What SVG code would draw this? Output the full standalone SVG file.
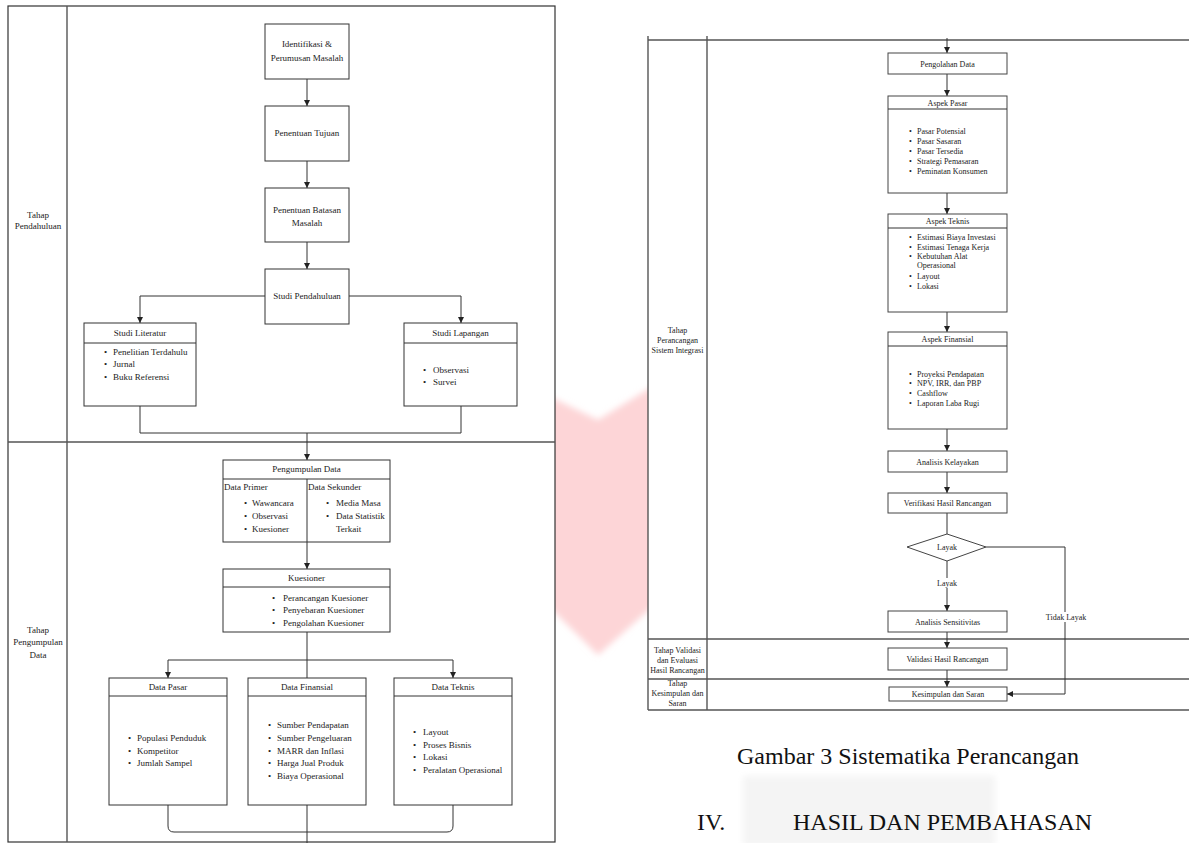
<svg xmlns="http://www.w3.org/2000/svg" width="1189" height="843" viewBox="0 0 1189 843">
<style>
  text { font-family: "Liberation Serif", "Times New Roman", serif; fill: #222; }
  .t { font-size: 9px; }
  .r { font-size: 8px; }
  .c { text-anchor: middle; }
  .box { fill: #fff; stroke: #333; stroke-width: 1; }
  .rbox { fill: #fff; stroke: #444; stroke-width: 1; }
  .sep { stroke: #333; stroke-width: 1; fill: none; }
  .lane { stroke: #555; stroke-width: 1.4; fill: none; }
  .con { stroke: #333; stroke-width: 1; fill: none; }
  .arr { marker-end: url(#ah); }
  .cap { font-size: 24px; fill: #111; }
</style>
<defs>
  <marker id="ah" markerUnits="userSpaceOnUse" markerWidth="7" markerHeight="7" refX="6" refY="3" orient="auto">
    <path d="M0,0 L6,3 L0,6 z" fill="#222"/>
  </marker>
  <filter id="soft" x="-10%" y="-10%" width="120%" height="120%">
    <feGaussianBlur stdDeviation="3"/>
  </filter>
</defs>
<rect x="0" y="0" width="1189" height="843" fill="#fff"/>

<!-- watermark -->
<g id="watermark">
  <polygon points="540,392 598,420 660,382 660,600 598,655 540,598" fill="#fdd5d7" filter="url(#soft)"/>
  <rect x="743" y="776" width="252" height="70" fill="#f4f4f4" filter="url(#soft)"/>
</g>

<!-- LEFT DIAGRAM swimlanes -->
<g id="left-lanes">
  <rect x="8" y="6" width="547" height="836" fill="#fff" stroke="#333" stroke-width="1.2"/>
  <line class="lane" x1="67" y1="6" x2="67" y2="842"/>
  <line class="lane" x1="8" y1="442" x2="555" y2="442"/>
  <text class="t c" x="38" y="218">Tahap</text>
  <text class="t c" x="38" y="229">Pendahuluan</text>
  <text class="t c" x="38" y="633">Tahap</text>
  <text class="t c" x="38" y="645">Pengumpulan</text>
  <text class="t c" x="38" y="658">Data</text>
</g>

<!-- RIGHT DIAGRAM swimlanes -->
<g id="right-lanes">
  <rect x="648" y="40" width="545" height="670" fill="#fff" stroke="none"/>
  <line class="lane" x1="648" y1="36" x2="648" y2="710"/>
  <line class="lane" x1="707" y1="36" x2="707" y2="710"/>
  <line class="lane" x1="648" y1="40" x2="1189" y2="40"/>
  <line class="lane" x1="648" y1="639" x2="1189" y2="639"/>
  <line class="lane" x1="648" y1="679" x2="1189" y2="679"/>
  <line class="lane" x1="648" y1="710" x2="1189" y2="710"/>
  <text class="r c" x="677.5" y="333">Tahap</text>
  <text class="r c" x="677.5" y="343">Perancangan</text>
  <text class="r c" x="677.5" y="353">Sistem Integrasi</text>
  <text class="r c" x="677.5" y="653">Tahap Validasi</text>
  <text class="r c" x="677.5" y="663">dan Evaluasi</text>
  <text class="r c" x="677.5" y="673">Hasil Rancangan</text>
  <text class="r c" x="677.5" y="686">Tahap</text>
  <text class="r c" x="677.5" y="696">Kesimpulan dan</text>
  <text class="r c" x="677.5" y="706">Saran</text>
</g>

<!-- connectors -->
<g id="connectors">
  <line class="con arr" x1="307" y1="79" x2="307" y2="106"/>
  <line class="con arr" x1="307" y1="161" x2="307" y2="188"/>
  <line class="con arr" x1="307" y1="242" x2="307" y2="269"/>
  <path class="con arr" d="M265,296 H140 V323"/>
  <path class="con arr" d="M349,296 H461 V323"/>
  <path class="con" d="M140,406 V433 H461 V406"/>
  <line class="con arr" x1="307" y1="433" x2="307" y2="460"/>
  <line class="con arr" x1="307" y1="542" x2="307" y2="569"/>
  <path class="con" d="M307,632 V678"/>
  <path class="con arr" d="M307,660 H168 V678"/>
  <path class="con arr" d="M307,660 H453 V678"/>
  <path class="con" d="M168,805 V826 Q168,832 174,832 H447 Q453,832 453,826 V805"/>
  <line class="con" x1="307" y1="805" x2="307" y2="843"/>

  <line class="con arr" x1="947" y1="38" x2="947" y2="53"/>
  <line class="con arr" x1="947" y1="74" x2="947" y2="96"/>
  <line class="con arr" x1="947" y1="193" x2="947" y2="214"/>
  <line class="con arr" x1="947" y1="312" x2="947" y2="332"/>
  <line class="con arr" x1="947" y1="429" x2="947" y2="451"/>
  <line class="con arr" x1="947" y1="472" x2="947" y2="493"/>
  <line class="con" x1="947" y1="513" x2="947" y2="534"/>
  <line class="con arr" x1="947" y1="561" x2="947" y2="611"/>
  <line class="con arr" x1="947" y1="632" x2="947" y2="648"/>
  <line class="con arr" x1="947" y1="670" x2="947" y2="687"/>
  <path class="con arr" d="M986,547 H1065 V694 H1007"/>
  <rect x="932" y="578" width="30" height="10" fill="#fff"/>
  <text class="r c" x="947" y="586">Layak</text>
  <rect x="1045" y="612" width="42" height="10" fill="#fff"/>
  <text class="r c" x="1066" y="620">Tidak Layak</text>
</g>

<!-- LEFT NODES -->
<g id="n-identifikasi">
  <rect class="box" x="265" y="24" width="84" height="55"/>
  <text class="t c" x="307" y="47">Identifikasi &amp;</text>
  <text class="t c" x="307" y="61">Perumusan Masalah</text>
</g>
<g id="n-tujuan">
  <rect class="box" x="265" y="106" width="84" height="55"/>
  <text class="t c" x="307" y="136">Penentuan Tujuan</text>
</g>
<g id="n-batasan">
  <rect class="box" x="265" y="188" width="84" height="54"/>
  <text class="t c" x="307" y="213">Penentuan Batasan</text>
  <text class="t c" x="307" y="226">Masalah</text>
</g>
<g id="n-studi-pendahuluan">
  <rect class="box" x="265" y="269" width="84" height="55"/>
  <text class="t c" x="307" y="299">Studi Pendahuluan</text>
</g>
<g id="n-studi-literatur">
  <rect class="box" x="84" y="323" width="112" height="83"/>
  <line class="sep" x1="84" y1="343" x2="196" y2="343"/>
  <text class="t c" x="140" y="336">Studi Literatur</text>
  <text class="t" x="104" y="355">•</text><text class="t" x="113" y="355">Penelitian Terdahulu</text>
  <text class="t" x="104" y="367">•</text><text class="t" x="113" y="367">Jurnal</text>
  <text class="t" x="104" y="380">•</text><text class="t" x="113" y="380">Buku Referensi</text>
</g>
<g id="n-studi-lapangan">
  <rect class="box" x="404" y="323" width="113" height="83"/>
  <line class="sep" x1="404" y1="343" x2="517" y2="343"/>
  <text class="t c" x="460.5" y="336">Studi Lapangan</text>
  <text class="t" x="423" y="373">•</text><text class="t" x="433" y="373">Observasi</text>
  <text class="t" x="423" y="385">•</text><text class="t" x="433" y="385">Survei</text>
</g>
<g id="n-pengumpulan">
  <rect class="box" x="223" y="460" width="167" height="82"/>
  <line class="sep" x1="223" y1="479" x2="390" y2="479"/>
  <line class="sep" x1="307" y1="479" x2="307" y2="542"/>
  <text class="t c" x="306.5" y="472">Pengumpulan Data</text>
  <text class="t" x="224" y="490">Data Primer</text>
  <text class="t" x="244" y="506">•</text><text class="t" x="252" y="506">Wawancara</text>
  <text class="t" x="244" y="519">•</text><text class="t" x="252" y="519">Observasi</text>
  <text class="t" x="244" y="532">•</text><text class="t" x="252" y="532">Kuesioner</text>
  <text class="t" x="308" y="490">Data Sekunder</text>
  <text class="t" x="326" y="506">•</text><text class="t" x="336" y="506">Media Masa</text>
  <text class="t" x="326" y="519">•</text><text class="t" x="336" y="519">Data Statistik</text>
  <text class="t" x="336" y="532">Terkait</text>
</g>
<g id="n-kuesioner">
  <rect class="box" x="223" y="569" width="167" height="63"/>
  <line class="sep" x1="223" y1="587" x2="390" y2="587"/>
  <text class="t c" x="306.5" y="581">Kuesioner</text>
  <text class="t" x="272" y="601">•</text><text class="t" x="283" y="601">Perancangan Kuesioner</text>
  <text class="t" x="272" y="613">•</text><text class="t" x="283" y="613">Penyebaran Kuesioner</text>
  <text class="t" x="272" y="626">•</text><text class="t" x="283" y="626">Pengolahan Kuesioner</text>
</g>
<g id="n-data-pasar">
  <rect class="box" x="109" y="678" width="118" height="127"/>
  <line class="sep" x1="109" y1="696" x2="227" y2="696"/>
  <text class="t c" x="168" y="690">Data Pasar</text>
  <text class="t" x="128" y="741">•</text><text class="t" x="137" y="741">Populasi Penduduk</text>
  <text class="t" x="128" y="754">•</text><text class="t" x="137" y="754">Kompetitor</text>
  <text class="t" x="128" y="766">•</text><text class="t" x="137" y="766">Jumlah Sampel</text>
</g>
<g id="n-data-finansial">
  <rect class="box" x="248" y="678" width="118" height="127"/>
  <line class="sep" x1="248" y1="696" x2="366" y2="696"/>
  <text class="t c" x="307" y="690">Data Finansial</text>
  <text class="t" x="268" y="728">•</text><text class="t" x="277" y="728">Sumber Pendapatan</text>
  <text class="t" x="268" y="741">•</text><text class="t" x="277" y="741">Sumber Pengeluaran</text>
  <text class="t" x="268" y="754">•</text><text class="t" x="277" y="754">MARR dan Inflasi</text>
  <text class="t" x="268" y="766">•</text><text class="t" x="277" y="766">Harga Jual Produk</text>
  <text class="t" x="268" y="779">•</text><text class="t" x="277" y="779">Biaya Operasional</text>
</g>
<g id="n-data-teknis">
  <rect class="box" x="394" y="678" width="118" height="127"/>
  <line class="sep" x1="394" y1="696" x2="512" y2="696"/>
  <text class="t c" x="453" y="690">Data Teknis</text>
  <text class="t" x="413" y="735">•</text><text class="t" x="423" y="735">Layout</text>
  <text class="t" x="413" y="748">•</text><text class="t" x="423" y="748">Proses Bisnis</text>
  <text class="t" x="413" y="760">•</text><text class="t" x="423" y="760">Lokasi</text>
  <text class="t" x="413" y="773">•</text><text class="t" x="423" y="773">Peralatan Operasional</text>
</g>

<!-- RIGHT NODES -->
<g id="r-pengolahan">
  <rect class="rbox" x="888" y="53" width="119" height="21"/>
  <text class="r c" x="947.5" y="66.5">Pengolahan Data</text>
</g>
<g id="r-aspek-pasar">
  <rect class="rbox" x="888" y="96" width="119" height="97"/>
  <line class="sep" x1="888" y1="109" x2="1007" y2="109"/>
  <text class="r c" x="947.5" y="105.5">Aspek Pasar</text>
  <text class="r" x="909" y="134">•</text><text class="r" x="917" y="134">Pasar Potensial</text>
  <text class="r" x="909" y="144">•</text><text class="r" x="917" y="144">Pasar Sasaran</text>
  <text class="r" x="909" y="154">•</text><text class="r" x="917" y="154">Pasar Tersedia</text>
  <text class="r" x="909" y="164">•</text><text class="r" x="917" y="164">Strategi Pemasaran</text>
  <text class="r" x="909" y="174">•</text><text class="r" x="917" y="174">Peminatan Konsumen</text>
</g>
<g id="r-aspek-teknis">
  <rect class="rbox" x="888" y="214" width="119" height="98"/>
  <line class="sep" x1="888" y1="228" x2="1007" y2="228"/>
  <text class="r c" x="947.5" y="224">Aspek Teknis</text>
  <text class="r" x="909" y="240">•</text><text class="r" x="917" y="240">Estimasi Biaya Investasi</text>
  <text class="r" x="909" y="250">•</text><text class="r" x="917" y="250">Estimasi Tenaga Kerja</text>
  <text class="r" x="909" y="259">•</text><text class="r" x="917" y="259">Kebutuhan Alat</text>
  <text class="r" x="917" y="268">Operasional</text>
  <text class="r" x="909" y="279">•</text><text class="r" x="917" y="279">Layout</text>
  <text class="r" x="909" y="289">•</text><text class="r" x="917" y="289">Lokasi</text>
</g>
<g id="r-aspek-finansial">
  <rect class="rbox" x="888" y="332" width="119" height="97"/>
  <line class="sep" x1="888" y1="346" x2="1007" y2="346"/>
  <text class="r c" x="947.5" y="342">Aspek Finansial</text>
  <text class="r" x="909" y="377">•</text><text class="r" x="917" y="377">Proyeksi Pendapatan</text>
  <text class="r" x="909" y="386">•</text><text class="r" x="917" y="386">NPV, IRR, dan PBP</text>
  <text class="r" x="909" y="396">•</text><text class="r" x="917" y="396">Cashflow</text>
  <text class="r" x="909" y="406">•</text><text class="r" x="917" y="406">Laporan Laba Rugi</text>
</g>
<g id="r-analisis-kelayakan">
  <rect class="rbox" x="888" y="451" width="119" height="21"/>
  <text class="r c" x="947.5" y="464.5">Analisis Kelayakan</text>
</g>
<g id="r-verifikasi">
  <rect class="rbox" x="888" y="493" width="119" height="20"/>
  <text class="r c" x="947.5" y="506">Verifikasi Hasil Rancangan</text>
</g>
<g id="r-layak">
  <polygon points="907,547 947,534 986,547 947,561" fill="#fff" stroke="#444" stroke-width="1"/>
  <text class="r c" x="947" y="550">Layak</text>
</g>
<g id="r-sensitivitas">
  <rect class="rbox" x="888" y="611" width="119" height="21"/>
  <text class="r c" x="947.5" y="624.5">Analisis Sensitivitas</text>
</g>
<g id="r-validasi">
  <rect class="rbox" x="888" y="648" width="119" height="22"/>
  <text class="r c" x="947.5" y="662">Validasi Hasil Rancangan</text>
</g>
<g id="r-kesimpulan">
  <rect class="rbox" x="889" y="687" width="118" height="14"/>
  <text class="r c" x="948" y="697">Kesimpulan dan Saran</text>
</g>

<!-- captions -->
<g id="captions">
  <text class="cap" x="737" y="764">Gambar 3 Sistematika Perancangan</text>
  <text class="cap" x="697" y="830">IV.</text>
  <text class="cap" x="793" y="830">HASIL DAN PEMBAHASAN</text>
</g>
</svg>
